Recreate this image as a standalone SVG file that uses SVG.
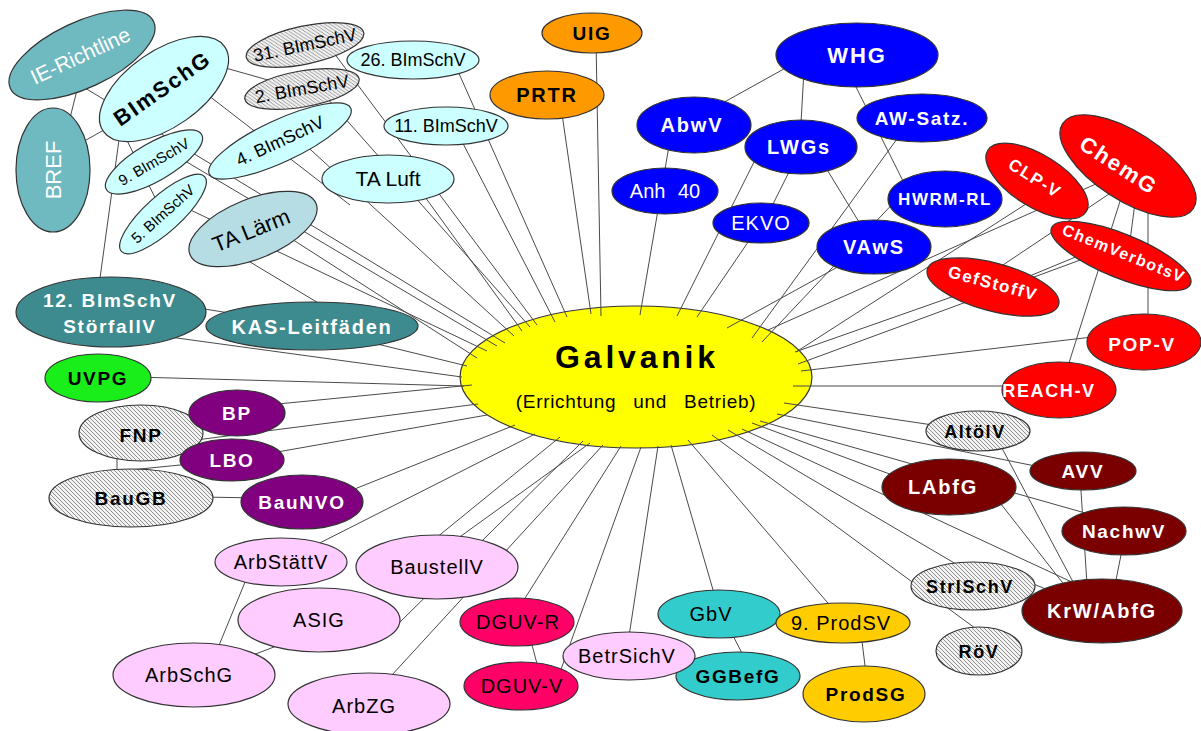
<svg xmlns="http://www.w3.org/2000/svg" width="1201" height="731" viewBox="0 0 1201 731">
<defs>
  <pattern id="hatch" patternUnits="userSpaceOnUse" width="4" height="4">
    <rect width="4" height="4" fill="#f2f2f2"/>
    <path d="M-1,-1 L5,5 M-1,3 L1,5 M3,-1 L5,1" stroke="#858585" stroke-width="0.9"/>
  </pattern>
  <style>
    ellipse{stroke:#333;stroke-width:1.2}
    text{font-family:"Liberation Sans",Arial,sans-serif;text-anchor:middle;fill:#000}
    .b{font-weight:bold;letter-spacing:0.09em}
    .r{letter-spacing:1px}
    .w{fill:#fff}
    .teal1{fill:#6fb9c0}
    .cyan{fill:#ccffff}
    .grey{fill:#b6dde3}
    .teal2{fill:#3e8b8f}
    .green{fill:#1aee1a}
    .purple{fill:#800080}
    .pink{fill:#ffccff}
    .crimson{fill:#ff0066}
    .turq{fill:#33cccc}
    .gold{fill:#ffcc00}
    .orange{fill:#ff9900}
    .blue{fill:#0000ff}
    .red{fill:#ff0000}
    .maroon{fill:#7a0000}
    .hatch{fill:url(#hatch)}
    .core{fill:#ffff00}
    #connectors line{stroke:#4a4a4a;stroke-width:1}
  </style>
</defs>
<rect width="1201" height="731" fill="#fff"/>

<!-- central node -->
<g id="galvanik">
  <ellipse class="core" cx="636" cy="377" rx="176" ry="71"/>
</g>

<!-- connectors -->
<g id="connectors">
  <line x1="84" y1="62" x2="62" y2="150"/>
  <line x1="80" y1="85" x2="118" y2="108"/>
  <line x1="72" y1="148" x2="118" y2="122"/>
  <line x1="122" y1="118" x2="97" y2="300"/>
  <line x1="118" y1="122" x2="163" y2="214"/>
  <line x1="190" y1="58" x2="300" y2="89"/>
  <line x1="195" y1="85" x2="350" y2="205"/>
  <line x1="150" y1="127" x2="505" y2="343"/>
  <line x1="328" y1="45" x2="537" y2="325"/>
  <line x1="319" y1="89" x2="530" y2="327"/>
  <line x1="453" y1="60" x2="567" y2="317"/>
  <line x1="454" y1="126" x2="555" y2="322"/>
  <line x1="300" y1="140" x2="514" y2="336"/>
  <line x1="420" y1="190" x2="522" y2="331"/>
  <line x1="175" y1="155" x2="497" y2="346"/>
  <line x1="180" y1="205" x2="487" y2="351"/>
  <line x1="270" y1="225" x2="477" y2="358"/>
  <line x1="230" y1="250" x2="340" y2="316"/>
  <line x1="180" y1="305" x2="260" y2="318"/>
  <line x1="312" y1="328" x2="467" y2="366"/>
  <line x1="111" y1="329" x2="462" y2="377"/>
  <line x1="98" y1="376" x2="464" y2="386"/>
  <line x1="237" y1="408" x2="472" y2="385"/>
  <line x1="141" y1="447" x2="478" y2="404"/>
  <line x1="232" y1="460" x2="487" y2="415"/>
  <line x1="302" y1="510" x2="515" y2="425"/>
  <line x1="117" y1="440" x2="117" y2="490"/>
  <line x1="130" y1="470" x2="200" y2="463"/>
  <line x1="200" y1="497" x2="260" y2="498"/>
  <line x1="300" y1="553" x2="535" y2="434"/>
  <line x1="250" y1="570" x2="215" y2="655"/>
  <line x1="240" y1="660" x2="300" y2="637"/>
  <line x1="409" y1="560" x2="560" y2="437"/>
  <line x1="400" y1="580" x2="590" y2="443"/>
  <line x1="395" y1="627" x2="583" y2="441"/>
  <line x1="369" y1="700" x2="603" y2="445"/>
  <line x1="510" y1="622" x2="621" y2="446"/>
  <line x1="555" y1="686" x2="641" y2="447"/>
  <line x1="528" y1="630" x2="540" y2="675"/>
  <line x1="626" y1="656" x2="658" y2="446"/>
  <line x1="720" y1="614" x2="671" y2="445"/>
  <line x1="725" y1="620" x2="748" y2="665"/>
  <line x1="845" y1="623" x2="688" y2="440"/>
  <line x1="860" y1="625" x2="868" y2="690"/>
  <line x1="979" y1="631" x2="712" y2="435"/>
  <line x1="973" y1="574" x2="728" y2="430"/>
  <line x1="1102" y1="596" x2="742" y2="429"/>
  <line x1="1110" y1="520" x2="760" y2="421"/>
  <line x1="949" y1="496" x2="752" y2="423"/>
  <line x1="1060" y1="471" x2="777" y2="414"/>
  <line x1="960" y1="429" x2="784" y2="403"/>
  <line x1="995" y1="435" x2="1080" y2="595"/>
  <line x1="990" y1="490" x2="1080" y2="605"/>
  <line x1="1080" y1="475" x2="1088" y2="600"/>
  <line x1="1125" y1="535" x2="1112" y2="600"/>
  <line x1="1000" y1="570" x2="1060" y2="595"/>
  <line x1="1030" y1="386" x2="793" y2="386"/>
  <line x1="1144" y1="331" x2="801" y2="371"/>
  <line x1="1148" y1="190" x2="1148" y2="340"/>
  <line x1="1122" y1="195" x2="1062" y2="385"/>
  <line x1="1136" y1="195" x2="1128" y2="256"/>
  <line x1="1121" y1="245" x2="798" y2="364"/>
  <line x1="1000" y1="280" x2="795" y2="352"/>
  <line x1="1090" y1="251" x2="1020" y2="280"/>
  <line x1="1115" y1="190" x2="1000" y2="267"/>
  <line x1="1134" y1="167" x2="768" y2="330"/>
  <line x1="1040" y1="195" x2="796" y2="352"/>
  <line x1="900" y1="196" x2="762" y2="342"/>
  <line x1="905" y1="128" x2="752" y2="338"/>
  <line x1="874" y1="247" x2="727" y2="328"/>
  <line x1="800" y1="60" x2="710" y2="110"/>
  <line x1="804" y1="70" x2="800" y2="140"/>
  <line x1="850" y1="75" x2="910" y2="195"/>
  <line x1="670" y1="140" x2="640" y2="315"/>
  <line x1="760" y1="150" x2="677" y2="316"/>
  <line x1="800" y1="150" x2="765" y2="220"/>
  <line x1="815" y1="150" x2="870" y2="240"/>
  <line x1="761" y1="223" x2="697" y2="317"/>
  <line x1="596" y1="40" x2="601" y2="316"/>
  <line x1="560" y1="100" x2="591" y2="314"/>
</g>

<g id="galvanik-label">
  <text x="637" y="368" class="b" style="font-size:32px;letter-spacing:3.8px">Galvanik</text>
  <text x="636" y="408" style="font-size:19px;word-spacing:11px;letter-spacing:0.7px">(Errichtung und Betrieb)</text>
</g>

<!-- emission control cluster -->
<g id="ie-richtline">
  <ellipse class="teal1" cx="82" cy="55" rx="79" ry="33" transform="rotate(-25 82 55)"/>
  <text class="w" x="80" y="63" style="font-size:21px" transform="rotate(-25 80 55)">IE-Richtline</text>
</g>
<g id="bref">
  <ellipse class="teal1" cx="53" cy="170" rx="37" ry="62"/>
  <text class="w" x="53" y="178" style="font-size:22px" transform="rotate(-90 53 170)">BREF</text>
</g>
<g id="bimschg">
  <ellipse class="cyan" cx="164" cy="89" rx="74" ry="38" transform="rotate(-35 164 89)"/>
  <text class="b" x="162" y="96" style="font-size:22px" transform="rotate(-35 162 88)">BImSchG</text>
</g>
<g id="bimschv-31">
  <ellipse class="hatch" cx="305" cy="45" rx="60" ry="19" transform="rotate(-12 305 45)"/>
  <text x="305" y="51" style="font-size:18px" transform="rotate(-12 305 45)">31. BImSchV</text>
</g>
<g id="bimschv-2">
  <ellipse class="hatch" cx="302" cy="89" rx="58" ry="18" transform="rotate(-10 302 89)"/>
  <text x="302" y="95" style="font-size:18px" transform="rotate(-10 302 89)">2. BImSchV</text>
</g>
<g id="bimschv-26">
  <ellipse class="cyan" cx="413" cy="60" rx="66" ry="19"/>
  <text x="413" y="66" style="font-size:18px">26. BImSchV</text>
</g>
<g id="bimschv-11">
  <ellipse class="cyan" cx="446" cy="126" rx="62" ry="19"/>
  <text x="446" y="132" style="font-size:18px">11. BImSchV</text>
</g>
<g id="bimschv-4">
  <ellipse class="cyan" cx="280" cy="141" rx="78" ry="21" transform="rotate(-25 280 141)"/>
  <text x="280" y="147" style="font-size:18px" transform="rotate(-25 280 141)">4. BImSchV</text>
</g>
<g id="bimschv-9">
  <ellipse class="cyan" cx="154" cy="162" rx="55" ry="19" transform="rotate(-30 154 162)"/>
  <text x="154" y="167" style="font-size:15px" transform="rotate(-30 154 162)">9. BImSchV</text>
</g>
<g id="bimschv-5">
  <ellipse class="cyan" cx="163" cy="214" rx="56" ry="18" transform="rotate(-42 163 214)"/>
  <text x="163" y="219" style="font-size:15px" transform="rotate(-42 163 214)">5. BImSchV</text>
</g>
<g id="ta-luft">
  <ellipse class="cyan" cx="388" cy="179" rx="66" ry="24"/>
  <text x="388" y="186" style="font-size:21px">TA Luft</text>
</g>
<g id="ta-laerm">
  <ellipse class="grey" cx="253" cy="229" rx="68" ry="30" transform="rotate(-22 253 229)"/>
  <text x="251" y="238" style="font-size:22px" transform="rotate(-22 251 230)">TA Lärm</text>
</g>
<g id="stoerfallv">
  <ellipse class="teal2" cx="111" cy="312" rx="95" ry="35"/>
  <text class="b w" x="110" y="307" style="font-size:19px">12. BImSchV</text>
  <text class="b w" x="110" y="333" style="font-size:19px">StörfallV</text>
</g>
<g id="kas-leitfaeden">
  <ellipse class="teal2" cx="312" cy="326" rx="106" ry="24"/>
  <text class="b w" x="312" y="334" style="font-size:20px">KAS-Leitfäden</text>
</g>

<!-- planning law -->
<g id="uvpg">
  <ellipse class="green" cx="98" cy="378" rx="53" ry="24"/>
  <text class="b" x="98" y="385" style="font-size:19px">UVPG</text>
</g>
<g id="fnp">
  <ellipse class="hatch" cx="141" cy="433" rx="62" ry="28"/>
  <text class="b" x="141" y="442" style="font-size:19px">FNP</text>
</g>
<g id="baugb">
  <ellipse class="hatch" cx="131" cy="498" rx="82" ry="29"/>
  <text class="b" x="131" y="505" style="font-size:19px">BauGB</text>
</g>
<g id="bp">
  <ellipse class="purple" cx="237" cy="413" rx="48" ry="23"/>
  <text class="b w" x="237" y="420" style="font-size:19px">BP</text>
</g>
<g id="lbo">
  <ellipse class="purple" cx="232" cy="460" rx="52" ry="21"/>
  <text class="b w" x="232" y="467" style="font-size:19px">LBO</text>
</g>
<g id="baunvo">
  <ellipse class="purple" cx="302" cy="502" rx="61" ry="27"/>
  <text class="b w" x="302" y="509" style="font-size:19px">BauNVO</text>
</g>

<!-- occupational safety -->
<g id="arbstaettv">
  <ellipse class="pink" cx="281" cy="562" rx="66" ry="24"/>
  <text class="r" x="281" y="569" style="font-size:20px">ArbStättV</text>
</g>
<g id="baustellv">
  <ellipse class="pink" cx="437" cy="567" rx="81" ry="32"/>
  <text class="r" x="437" y="574" style="font-size:20px">BaustellV</text>
</g>
<g id="asig">
  <ellipse class="pink" cx="319" cy="620" rx="81" ry="32"/>
  <text class="r" x="319" y="627" style="font-size:20px">ASIG</text>
</g>
<g id="arbschg">
  <ellipse class="pink" cx="194" cy="675" rx="81" ry="32"/>
  <text class="r" x="189" y="682" style="font-size:20px">ArbSchG</text>
</g>
<g id="arbzg">
  <ellipse class="pink" cx="369" cy="704" rx="81" ry="31"/>
  <text class="r" x="364" y="713" style="font-size:20px">ArbZG</text>
</g>
<g id="dguv-r">
  <ellipse class="crimson" cx="517" cy="622" rx="57" ry="24"/>
  <text class="r" x="518" y="629" style="font-size:20px">DGUV-R</text>
</g>
<g id="dguv-v">
  <ellipse class="crimson" cx="521" cy="686" rx="57" ry="24"/>
  <text class="r" x="522" y="693" style="font-size:20px">DGUV-V</text>
</g>
<g id="ggbefg">
  <ellipse class="turq" cx="738" cy="676" rx="62" ry="24"/>
  <text class="b" x="738" y="683" style="font-size:19px">GGBefG</text>
</g>
<g id="betrsichv">
  <ellipse class="pink" cx="629" cy="656" rx="66" ry="24"/>
  <text class="r" x="627" y="663" style="font-size:20px">BetrSichV</text>
</g>
<g id="gbv">
  <ellipse class="turq" cx="719" cy="614" rx="61" ry="24"/>
  <text class="r" x="711" y="621" style="font-size:20px">GbV</text>
</g>
<g id="prodsv-9">
  <ellipse class="gold" cx="843" cy="623" rx="67" ry="20"/>
  <text class="r" x="841" y="630" style="font-size:20px">9. ProdSV</text>
</g>
<g id="prodsg">
  <ellipse class="gold" cx="864" cy="694" rx="61" ry="28"/>
  <text class="b" x="866" y="701" style="font-size:19px">ProdSG</text>
</g>

<!-- environmental information -->
<g id="uig">
  <ellipse class="orange" cx="592" cy="33" rx="50" ry="20"/>
  <text class="b" x="592" y="40" style="font-size:19px">UIG</text>
</g>
<g id="prtr">
  <ellipse class="orange" cx="547" cy="95" rx="57" ry="24"/>
  <text class="b" x="547" y="102" style="font-size:20px">PRTR</text>
</g>

<!-- water law -->
<g id="whg">
  <ellipse class="blue" cx="857" cy="55" rx="81" ry="32"/>
  <text class="b w" x="857" y="63" style="font-size:22px">WHG</text>
</g>
<g id="abwv">
  <ellipse class="blue" cx="694" cy="125" rx="57" ry="28"/>
  <text class="b w" x="692" y="132" style="font-size:20px">AbwV</text>
</g>
<g id="lwgs">
  <ellipse class="blue" cx="801" cy="147" rx="56" ry="27"/>
  <text class="b w" x="799" y="154" style="font-size:20px">LWGs</text>
</g>
<g id="aw-satz">
  <ellipse class="blue" cx="922" cy="118" rx="65" ry="24"/>
  <text class="b w" x="922" y="125" style="font-size:19px">AW-Satz.</text>
</g>
<g id="anh-40">
  <ellipse class="blue" cx="665" cy="191" rx="53" ry="23"/>
  <text class="w" x="665" y="198" style="font-size:20px;word-spacing:7px">Anh 40</text>
</g>
<g id="hwrm-rl">
  <ellipse class="blue" cx="945" cy="199" rx="57" ry="28"/>
  <text class="b w" x="945" y="205" style="font-size:17px">HWRM-RL</text>
</g>
<g id="ekvo">
  <ellipse class="blue" cx="761" cy="223" rx="48" ry="20"/>
  <text class="w r" x="761" y="230" style="font-size:20px">EKVO</text>
</g>
<g id="vaws">
  <ellipse class="blue" cx="874" cy="247" rx="57" ry="27"/>
  <text class="b w" x="874" y="254" style="font-size:20px">VAwS</text>
</g>

<!-- chemicals law -->
<g id="clp-v">
  <ellipse class="red" cx="1037" cy="181" rx="58" ry="26" transform="rotate(32 1037 181)"/>
  <text class="b w" x="1035" y="184" style="font-size:17px" transform="rotate(32 1035 178)">CLP-V</text>
</g>
<g id="chemg">
  <ellipse class="red" cx="1128" cy="166" rx="78" ry="34" transform="rotate(33 1128 166)"/>
  <text class="b w" x="1119" y="173" style="font-size:22px" transform="rotate(33 1119 165)">ChemG</text>
</g>
<g id="chemverbotsv">
  <ellipse class="red" cx="1121" cy="256" rx="75" ry="22" transform="rotate(22 1121 256)"/>
  <text class="b w" x="1124" y="259" style="font-size:16px" transform="rotate(22 1124 253)">ChemVerbotsV</text>
</g>
<g id="gefstoffv">
  <ellipse class="red" cx="993" cy="287" rx="68" ry="24" transform="rotate(15 993 287)"/>
  <text class="b w" x="993" y="289" style="font-size:17px" transform="rotate(15 993 283)">GefStoffV</text>
</g>
<g id="pop-v">
  <ellipse class="red" cx="1144" cy="342" rx="57" ry="28"/>
  <text class="b w" x="1142" y="351" style="font-size:19px">POP-V</text>
</g>
<g id="reach-v">
  <ellipse class="red" cx="1059" cy="390" rx="57" ry="28"/>
  <text class="b w" x="1049" y="397" style="font-size:18px">REACH-V</text>
</g>

<!-- waste and radiation law -->
<g id="altoelv">
  <ellipse class="hatch" cx="978" cy="431" rx="52" ry="20"/>
  <text class="b" x="975" y="438" style="font-size:18px">AltölV</text>
</g>
<g id="avv">
  <ellipse class="maroon" cx="1083" cy="471" rx="53" ry="19"/>
  <text class="b w" x="1083" y="478" style="font-size:19px">AVV</text>
</g>
<g id="labfg">
  <ellipse class="maroon" cx="949" cy="487" rx="67" ry="28"/>
  <text class="b w" x="943" y="494" style="font-size:20px">LAbfG</text>
</g>
<g id="nachwv">
  <ellipse class="maroon" cx="1124" cy="531" rx="62" ry="24"/>
  <text class="b w" x="1124" y="538" style="font-size:19px">NachwV</text>
</g>
<g id="strlschv">
  <ellipse class="hatch" cx="973" cy="586" rx="62" ry="24"/>
  <text class="b" x="970" y="593" style="font-size:18px">StrlSchV</text>
</g>
<g id="krw-abfg">
  <ellipse class="maroon" cx="1102" cy="611" rx="80" ry="32"/>
  <text class="b w" x="1102" y="618" style="font-size:20px">KrW/AbfG</text>
</g>
<g id="roev">
  <ellipse class="hatch" cx="979" cy="651" rx="43" ry="24"/>
  <text class="b" x="979" y="658" style="font-size:18px">RöV</text>
</g>
</svg>
